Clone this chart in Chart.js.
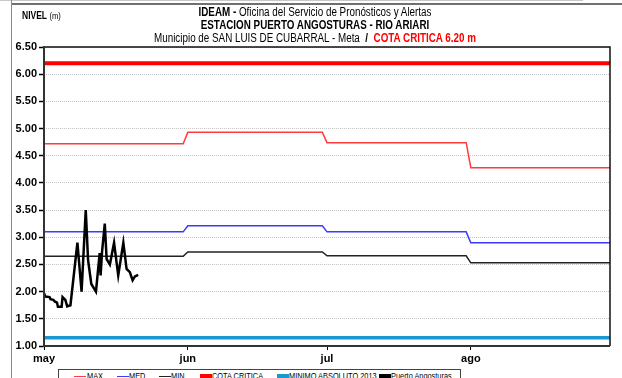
<!DOCTYPE html>
<html>
<head>
<meta charset="utf-8">
<script src="https://cdn.jsdelivr.net/npm/chart.js@4.4.1/dist/chart.umd.min.js"></script>
<style>
  html, body { margin:0; padding:0; width:622px; height:378px; overflow:hidden; background:#fff; }
  #wrap { position:relative; width:622px; height:378px; overflow:hidden; font-family:"Liberation Sans",Arial,sans-serif; }
  canvas { position:absolute; left:0; top:0; }
  .t { position:absolute; white-space:nowrap; color:#000; }
  .title { left:0; width:622px; text-align:center; font-size:12px; padding-left:8px; box-sizing:border-box; transform:scaleX(0.82); transform-origin:315px 0; }
  #frameTopLight { position:absolute; left:0; top:0; width:583px; height:1px; background:#c8c8c8; }
  #frameTop { position:absolute; left:11px; top:3px; width:611px; height:2px; background:#707070; }
  #frameLeft { position:absolute; left:11px; top:0; width:1px; height:378px; background:#8a8a8a; }
  #legend { position:absolute; left:58px; top:369px; width:401px; height:20px; border:1px solid #444; background:#fff; font-size:9px; }
  .li { position:absolute; top:1px; white-space:nowrap; transform:scaleX(0.82); transform-origin:0 0; }
  .sw { position:absolute; width:12px; }
</style>
</head>
<body>
<div id="wrap">
  <canvas id="c" width="622" height="378"></canvas>
  <div id="frameTopLight"></div>
  <div id="frameTop"></div>
  <div id="frameLeft"></div>
  <div class="t" style="left:22px; top:10px; font-size:10px; transform:scaleX(0.85); transform-origin:0 0;"><b>NIVEL</b> <span style="font-size:9px">(m)</span></div>
  <div class="t title" style="top:5px;"><b>IDEAM -</b> Oficina del Servicio de Pronósticos y Alertas</div>
  <div class="t title" style="top:18px; font-weight:bold;">ESTACION PUERTO ANGOSTURAS - RIO ARIARI</div>
  <div class="t title" style="top:31px;">Municipio de SAN LUIS DE CUBARRAL - Meta&nbsp; <b>/</b>&nbsp; <b style="color:#ff0000">COTA CRITICA 6.20 m</b></div>
  <div id="legend"></div>
</div>
<script>
// ---- data ----
const monthDays   = [0, 31, 61, 92];
const monthLabels = ['may', 'jun', 'jul', 'ago'];
const yTicks      = [1.00, 1.50, 2.00, 2.50, 3.00, 3.50, 4.00, 4.50, 5.00, 5.50, 6.00, 6.50];

const refDays   = [0, 30, 31, 60, 61, 91, 92, 122];
const maxLevels = [4.72, 4.72, 4.93, 4.93, 4.74, 4.74, 4.28, 4.28];
const medLevels = [3.10, 3.10, 3.21, 3.21, 3.10, 3.10, 2.90, 2.90];
const minLevels = [2.65, 2.65, 2.73, 2.73, 2.66, 2.66, 2.53, 2.53];

const limitDays   = [0, 122];
const cotaCritica = [6.20, 6.20];
const minimoAbs   = [1.15, 1.15];

const obsDays   = [0, 0.3, 1.2, 1.4, 2.0, 2.3, 2.8, 3.0, 3.8, 4.0, 4.6, 5.0, 5.7, 7.2, 8.1, 9.0, 9.5, 10.2, 11.2, 12.0, 12.2, 12.5, 13.1, 13.5, 14.2, 15.1, 16.0, 17.1, 17.8, 18.5, 19.1, 19.6, 20.3];
const obsLevels = [1.97, 1.91, 1.90, 1.86, 1.85, 1.82, 1.80, 1.72, 1.72, 1.90, 1.85, 1.73, 1.75, 2.90, 2.00, 3.50, 2.58, 2.14, 2.00, 2.71, 2.30, 2.72, 3.25, 2.60, 2.50, 2.90, 2.30, 2.90, 2.42, 2.36, 2.21, 2.28, 2.31];

const seriesNames = ['MAX', 'MED', 'MIN', 'COTA CRITICA', 'MINIMO ABSOLUTO 2013', 'Puerto Angosturas'];

// ---- build ----
const pts = (xs, ys) => xs.map((x, i) => ({ x: x, y: ys[i] }));

const datasets = [
  { label: seriesNames[0], data: pts(refDays, maxLevels), borderColor: '#ff3b3b', borderWidth: 1.5, order: 5 },
  { label: seriesNames[1], data: pts(refDays, medLevels), borderColor: '#3a3aff', borderWidth: 1.5, order: 4 },
  { label: seriesNames[2], data: pts(refDays, minLevels), borderColor: '#222222', borderWidth: 1.5, order: 3 },
  { label: seriesNames[3], data: pts(limitDays, cotaCritica), borderColor: '#ff0000', borderWidth: 4, order: 2 },
  { label: seriesNames[4], data: pts(limitDays, minimoAbs), borderColor: '#1b98d0', borderWidth: 3.5, order: 2 },
  { label: seriesNames[5], data: pts(obsDays, obsLevels), borderColor: '#000000', borderWidth: 2.5, order: 0 }
];
datasets.forEach(d => { d.pointRadius = 0; d.fill = false; d.tension = 0; d.borderJoinStyle = 'miter'; });

const boxPlugin = {
  id: 'box',
  afterDatasetsDraw(chart) {
    const a = chart.chartArea, ctx = chart.ctx;
    ctx.save();
    ctx.strokeStyle = '#111';
    ctx.lineWidth = 1.5;
    ctx.beginPath();
    ctx.moveTo(a.left, a.top); ctx.lineTo(a.right, a.top); ctx.lineTo(a.right, a.bottom);
    ctx.stroke();
    ctx.lineWidth = 2;
    ctx.strokeStyle = '#333';
    ctx.beginPath();
    ctx.moveTo(a.left, a.top - 1); ctx.lineTo(a.left, a.bottom); ctx.lineTo(a.right, a.bottom);
    ctx.stroke();
    ctx.restore();
  }
};

new Chart(document.getElementById('c'), {
  type: 'line',
  data: { datasets: datasets },
  options: {
    responsive: false,
    animation: false,
    layout: { padding: { left: 0, top: 47, right: 12, bottom: 0 } },
    plugins: { legend: { display: false }, tooltip: { enabled: false }, title: { display: false } },
    scales: {
      x: {
        type: 'linear', min: 0, max: 122,
        afterBuildTicks: s => { s.ticks = monthDays.map(v => ({ value: v })); },
        afterFit: s => { s.height = 32; },
        ticks: {
          callback: (v) => monthLabels[monthDays.indexOf(v)],
          font: { family: '"Liberation Sans", Arial, sans-serif', size: 11, weight: 'bold' },
          color: '#000', padding: 2, maxRotation: 0, autoSkip: false
        },
        grid: { drawOnChartArea: false, drawTicks: true, tickLength: 4, tickColor: '#000', tickWidth: 1 },
        border: { display: false }
      },
      y: {
        type: 'linear', min: 1, max: 6.5,
        afterBuildTicks: s => { s.ticks = yTicks.map(v => ({ value: v })); },
        afterFit: s => { s.width = 44; },
        ticks: {
          callback: v => v.toFixed(2),
          font: { family: '"Liberation Sans", Arial, sans-serif', size: 11, weight: 'bold' },
          color: '#000', padding: 2
        },
        grid: { color: '#c4c4c4', lineWidth: 1, tickLength: 5, tickColor: '#000', tickWidth: 1.5, tickBorderDash: [] },
        border: { display: false, dash: [1, 1] }
      }
    }
  },
  plugins: [boxPlugin]
});

// HTML legend
const leg = document.getElementById('legend');
const legItems = [
  { swLeft: 15, txtLeft: 28, color: '#ff3b3b', h: 1 },
  { swLeft: 58, txtLeft: 70, color: '#3a3aff', h: 1 },
  { swLeft: 100, txtLeft: 112, color: '#222', h: 1 },
  { swLeft: 141, txtLeft: 153, color: '#ff0000', h: 4 },
  { swLeft: 218, txtLeft: 230, color: '#1b98d0', h: 4 },
  { swLeft: 320, txtLeft: 332, color: '#000', h: 4 }
];
legItems.forEach((it, i) => {
  const sw = document.createElement('div');
  sw.className = 'sw';
  sw.style.left = it.swLeft + 'px';
  sw.style.height = it.h + 'px';
  sw.style.top = (6 - it.h / 2) + 'px';
  sw.style.background = it.color;
  leg.appendChild(sw);
  const tx = document.createElement('div');
  tx.className = 'li';
  tx.style.left = it.txtLeft + 'px';
  tx.textContent = seriesNames[i];
  leg.appendChild(tx);
});
</script>
</body>
</html>
